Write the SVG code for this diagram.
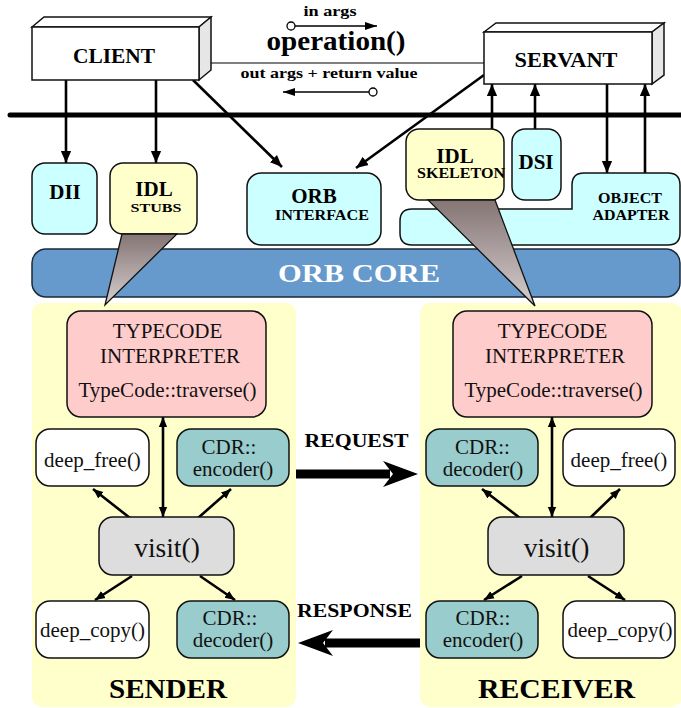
<svg xmlns="http://www.w3.org/2000/svg" width="681" height="708" viewBox="0 0 681 708">
<style>
.b{font-family:"Liberation Serif","Times New Roman",serif;font-weight:bold;fill:#000;text-anchor:middle}
.r{font-family:"Liberation Serif","Times New Roman",serif;fill:#111;text-anchor:middle;font-size:21px}
.box{stroke:#111;stroke-width:1.5}
.ln{stroke:#000;stroke-width:2.6;fill:none}
.cy{fill:#ccffff}
.yl{fill:#ffffcc}
.pk{fill:#ffcccc}
.tl{fill:#99cccc}
.wh{fill:#ffffff}
.gr{fill:#dddddd}
</style>
<defs>
<marker id="ah" markerUnits="userSpaceOnUse" markerWidth="12" markerHeight="12" refX="14" refY="6" orient="auto-start-reverse" viewBox="0 0 14 12">
<path d="M0,0 L14,6 L0,12 z" fill="#000"/>
</marker>
<marker id="as" markerUnits="userSpaceOnUse" markerWidth="10" markerHeight="10" refX="12" refY="5" orient="auto-start-reverse" viewBox="0 0 12 10">
<path d="M0,0 L12,5 L0,10 z" fill="#000"/>
</marker>
<marker id="at" markerUnits="userSpaceOnUse" markerWidth="12" markerHeight="8" refX="12" refY="4" orient="auto" viewBox="0 0 12 8">
<path d="M0,0 L12,4 L0,8 z" fill="#000"/>
</marker>
<linearGradient id="fun" x1="0" y1="0" x2="0" y2="1">
<stop offset="0" stop-color="#857575"/>
<stop offset="1" stop-color="#d6cece"/>
</linearGradient>
</defs>

<!-- panels -->
<g id="sender-panel"><rect x="32" y="303" width="264" height="404" rx="10" class="yl"/></g>
<g id="receiver-panel"><rect x="420" y="303" width="262" height="404" rx="10" class="yl"/></g>

<!-- connectors -->
<g id="connectors">
<line x1="211" y1="63" x2="484" y2="63" stroke="#000" stroke-width="1.2"/>
<line x1="295" y1="26" x2="377" y2="26" stroke="#000" stroke-width="1.3" marker-end="url(#at)"/>
<circle cx="291" cy="26" r="4" fill="#fff" stroke="#000" stroke-width="1.3"/>
<line x1="369" y1="92" x2="283" y2="92" stroke="#000" stroke-width="1.3" marker-end="url(#at)"/>
<circle cx="373" cy="92" r="4" fill="#fff" stroke="#000" stroke-width="1.3"/>
<line x1="66" y1="80" x2="66" y2="163" class="ln" marker-end="url(#ah)"/>
<line x1="156" y1="80" x2="156" y2="163" class="ln" marker-end="url(#ah)"/>
<line x1="193" y1="80" x2="282" y2="167" class="ln" marker-end="url(#ah)"/>
<line x1="484" y1="75" x2="356" y2="168" class="ln" marker-end="url(#ah)"/>
<line x1="492" y1="129" x2="492" y2="84" class="ln" marker-end="url(#ah)"/>
<line x1="535" y1="129" x2="535" y2="84" class="ln" marker-end="url(#ah)"/>
<line x1="645" y1="173" x2="645" y2="84" class="ln" marker-end="url(#ah)"/>
<line x1="607" y1="84" x2="607" y2="173" class="ln" marker-end="url(#ah)"/>
<line x1="10" y1="115" x2="681" y2="115" stroke="#000" stroke-width="5" stroke-linecap="round"/>
<!-- sender internals -->
<line x1="163" y1="417" x2="163" y2="517" class="ln" marker-start="url(#as)" marker-end="url(#as)"/>
<line x1="130" y1="518" x2="93" y2="489" class="ln" marker-end="url(#as)"/>
<line x1="198" y1="518" x2="231" y2="489" class="ln" marker-end="url(#as)"/>
<line x1="132" y1="576" x2="95" y2="600" class="ln" marker-end="url(#as)"/>
<line x1="200" y1="576" x2="235" y2="600" class="ln" marker-end="url(#as)"/>
<!-- receiver internals -->
<line x1="552" y1="417" x2="552" y2="517" class="ln" marker-start="url(#as)" marker-end="url(#as)"/>
<line x1="520" y1="518" x2="482" y2="489" class="ln" marker-end="url(#as)"/>
<line x1="590" y1="518" x2="620" y2="489" class="ln" marker-end="url(#as)"/>
<line x1="522" y1="576" x2="484" y2="600" class="ln" marker-end="url(#as)"/>
<line x1="588" y1="576" x2="625" y2="600" class="ln" marker-end="url(#as)"/>
<!-- request / response -->
<path d="M296,469.5 H390 V478.5 H296 Z M383,461 L418,474 L383,487 L393,474 Z" fill="#000"/>
<path d="M420,638.5 H325 V647.5 H420 Z M333,630 L298,643 L333,656 L323,643 Z" fill="#000"/>
</g>

<!-- CLIENT -->
<g id="client">
<polygon points="32,27 44,17 211,17 199,27" class="box wh"/>
<polygon points="199,27 211,17 211,70 199,80" class="box" fill="#e6e6e6"/>
<rect x="32" y="27" width="167" height="53" class="box wh"/>
<text x="114" y="63" class="b" font-size="21" textLength="82" lengthAdjust="spacingAndGlyphs">CLIENT</text>
</g>

<!-- SERVANT -->
<g id="servant">
<polygon points="484,32 496,23 664,23 652,32" class="box wh"/>
<polygon points="652,32 664,23 664,75 652,84" class="box" fill="#e6e6e6"/>
<rect x="484" y="32" width="168" height="52" class="box wh"/>
<text x="566" y="67" class="b" font-size="21" textLength="103" lengthAdjust="spacingAndGlyphs">SERVANT</text>
</g>

<g id="operation-labels">
<text x="330" y="16" class="b" font-size="14" textLength="53" lengthAdjust="spacingAndGlyphs">in  args</text>
<text x="336" y="50" class="b" font-size="27" textLength="139" lengthAdjust="spacingAndGlyphs">operation()</text>
<text x="329" y="78" class="b" font-size="14" textLength="177" lengthAdjust="spacingAndGlyphs">out  args + return  value</text>
</g>

<g id="dii">
<rect x="32" y="163" width="65" height="71" rx="13" class="box cy"/>
<text x="65" y="199" class="b" font-size="21">DII</text>
</g>

<g id="idl-stubs">
<rect x="110" y="163" width="87" height="71" rx="13" class="box yl"/>
<text x="154" y="196" class="b" font-size="21">IDL</text>
<text x="156" y="212" class="b" font-size="13" textLength="51" lengthAdjust="spacingAndGlyphs">STUBS</text>
</g>

<g id="orb-interface">
<rect x="247" y="173" width="134" height="72" rx="14" class="box cy"/>
<text x="314" y="203" class="b" font-size="21">ORB</text>
<text x="322" y="220" class="b" font-size="14" textLength="94" lengthAdjust="spacingAndGlyphs">INTERFACE</text>
</g>

<g id="object-adapter">
<path d="M572,209 V185 Q572,173 584,173 H668 Q680,173 680,185 V233 Q680,245 668,245 H412 Q400,245 400,233 V221 Q400,209 412,209 Z" class="box cy"/>
<text x="630" y="203" class="b" font-size="14" textLength="64" lengthAdjust="spacingAndGlyphs">OBJECT</text>
<text x="631" y="220" class="b" font-size="14" textLength="77" lengthAdjust="spacingAndGlyphs">ADAPTER</text>
</g>

<g id="idl-skeleton">
<rect x="406" y="129" width="98" height="71" rx="13" class="box yl"/>
<text x="455" y="163" class="b" font-size="21">IDL</text>
<text x="461" y="178" class="b" font-size="14" textLength="88" lengthAdjust="spacingAndGlyphs">SKELETON</text>
</g>

<g id="dsi">
<rect x="512" y="129" width="49" height="71" rx="13" class="box cy"/>
<text x="536" y="169" class="b" font-size="21">DSI</text>
</g>

<g id="orb-core">
<rect x="32" y="249" width="648" height="48" rx="14" fill="#6699cc" stroke="#1a2a3a" stroke-width="1.5"/>
<text x="359" y="282" class="b" font-size="26" style="fill:#fff" textLength="162" lengthAdjust="spacingAndGlyphs">ORB  CORE</text>
</g>

<g id="funnels">
<polygon points="122,234 177,234 105,305" fill="url(#fun)" stroke="#111" stroke-width="1.3"/>
<polygon points="428,200 495,200 535,306" fill="url(#fun)" stroke="#111" stroke-width="1.3"/>
</g>

<!-- sender nodes -->
<g id="s-typecode">
<rect x="67" y="311" width="199" height="106" rx="14" class="box pk"/>
<text x="167.5" y="338" class="r">TYPECODE</text>
<text x="170" y="363" class="r">INTERPRETER</text>
<text x="167.5" y="397" class="r">TypeCode::traverse()</text>
</g>
<g id="s-deep-free">
<rect x="36" y="429" width="113" height="57" rx="14" class="box wh"/>
<text x="92.5" y="467" class="r">deep_free()</text>
</g>
<g id="s-encoder">
<rect x="177" y="429" width="112" height="57" rx="14" class="box tl"/>
<text x="229" y="454" class="r">CDR::</text>
<text x="233" y="476" class="r">encoder()</text>
</g>
<g id="s-visit">
<rect x="99" y="517" width="135" height="58" rx="14" class="box gr"/>
<text x="167" y="557" class="r" style="font-size:27.5px">visit()</text>
</g>
<g id="s-deep-copy">
<rect x="36" y="601" width="113" height="57" rx="14" class="box wh"/>
<text x="92.5" y="637" class="r">deep_copy()</text>
</g>
<g id="s-decoder">
<rect x="177" y="601" width="112" height="57" rx="14" class="box tl"/>
<text x="230" y="625" class="r">CDR::</text>
<text x="233" y="647" class="r">decoder()</text>
</g>
<g id="sender-label"><text x="168" y="698" class="b" font-size="28" textLength="118" lengthAdjust="spacingAndGlyphs">SENDER</text></g>

<!-- receiver nodes -->
<g id="r-typecode">
<rect x="453" y="311" width="199" height="106" rx="14" class="box pk"/>
<text x="552.5" y="338" class="r">TYPECODE</text>
<text x="555" y="363" class="r">INTERPRETER</text>
<text x="553.5" y="397" class="r">TypeCode::traverse()</text>
</g>
<g id="r-decoder">
<rect x="426" y="429" width="112" height="57" rx="14" class="box tl"/>
<text x="482.5" y="454" class="r">CDR::</text>
<text x="483" y="476" class="r">decoder()</text>
</g>
<g id="r-deep-free">
<rect x="563" y="429" width="112" height="57" rx="14" class="box wh"/>
<text x="619" y="467" class="r">deep_free()</text>
</g>
<g id="r-visit">
<rect x="488" y="517" width="136" height="58" rx="14" class="box gr"/>
<text x="556.5" y="557" class="r" style="font-size:27.5px">visit()</text>
</g>
<g id="r-encoder">
<rect x="426" y="601" width="112" height="57" rx="14" class="box tl"/>
<text x="483" y="625" class="r">CDR::</text>
<text x="483" y="647" class="r">encoder()</text>
</g>
<g id="r-deep-copy">
<rect x="563" y="601" width="112" height="57" rx="14" class="box wh"/>
<text x="620" y="637" class="r">deep_copy()</text>
</g>
<g id="receiver-label"><text x="556.5" y="698" class="b" font-size="28" textLength="157" lengthAdjust="spacingAndGlyphs">RECEIVER</text></g>

<g id="flow-labels">
<text x="356.5" y="447" class="b" font-size="18" textLength="104" lengthAdjust="spacingAndGlyphs">REQUEST</text>
<text x="354.5" y="617" class="b" font-size="18" textLength="115" lengthAdjust="spacingAndGlyphs">RESPONSE</text>
</g>
</svg>
